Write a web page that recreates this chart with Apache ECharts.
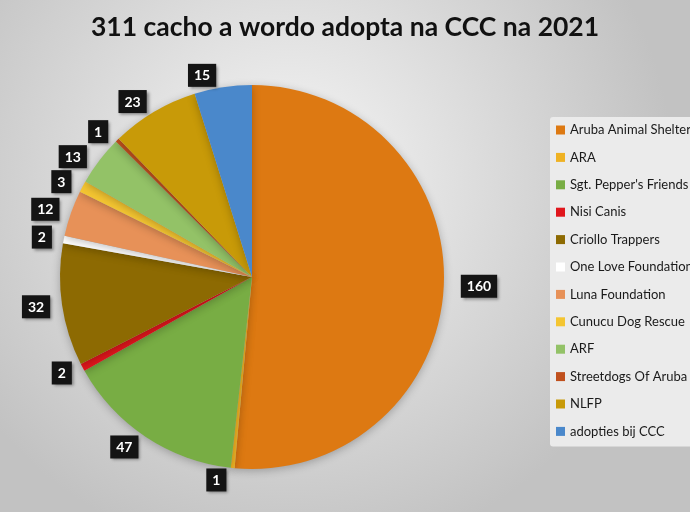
<!DOCTYPE html>
<html><head><meta charset="utf-8">
<script src="https://cdn.jsdelivr.net/npm/echarts@6/dist/echarts.min.js"></script>
<style>html,body{margin:0;padding:0;}#c{width:690px;height:512px;}</style>
</head><body><div id="c"></div>
<script>
const categories = ["Aruba Animal Shelter","ARA","Sgt. Pepper's Friends","Nisi Canis","Criollo Trappers","One Love Foundation","Luna Foundation","Cunucu Dog Rescue","ARF","Streetdogs Of Aruba","NLFP","adopties bij CCC"];
const values = [160, 1, 47, 2, 32, 2, 12, 3, 13, 1, 23, 15];
const colors = ["#DD7912","#EFB223","#78AD44","#E0161C","#8D6A02","#FFFFFF","#E79158","#F4C531","#93C267","#C0501D","#C89A08","#4A88CB"];

const chart = echarts.init(document.getElementById('c'));
chart.setOption({
  backgroundColor: {type:'radial', x:0.42, y:0.35, r:0.75, colorStops:[{offset:0,color:'#f6f6f6'},{offset:1,color:'#c2c2c2'}]},
  title: {text:'311 cacho a wordo adopta na CCC na 2021', left:'center', top:9,
    textStyle:{fontFamily:'Lato', fontWeight:'bold', fontSize:26.5, color:'#111'}},
  legend: {orient:'vertical', left:550, top:117, padding:[6,40,8,6], itemGap:13.4,
    backgroundColor:'#ebebeb', borderRadius:3,
    icon:'rect', itemWidth:9, itemHeight:9,
    textStyle:{fontFamily:'Lato', fontSize:13, color:'#1a1a1a', lineHeight:14}},
  series: [{
    type:'pie', center:[252,277], radius:192, startAngle:90, clockwise:true,
    data: categories.map((n,i)=>({name:n, value:values[i], itemStyle:{color:colors[i]}})),
    itemStyle:{shadowBlur:8, shadowColor:'rgba(0,0,0,0.25)', shadowOffsetY:2},
    label:{show:true, position:'outside', alignTo:'none', edgeDistance:0, formatter:'{b|{c}}',
      rich:{b:{color:'#fff', fontFamily:'Lato', fontWeight:'bold', fontSize:14,
        backgroundColor:'#141414', padding:[5,6,4,6], shadowBlur:3, shadowColor:'rgba(0,0,0,0.4)', shadowOffsetX:2, shadowOffsetY:2}}},
    labelLine:{show:false, length:12, length2:0},
    emphasis:{disabled:true},
    animation:false
  }]
});
</script></body></html>
